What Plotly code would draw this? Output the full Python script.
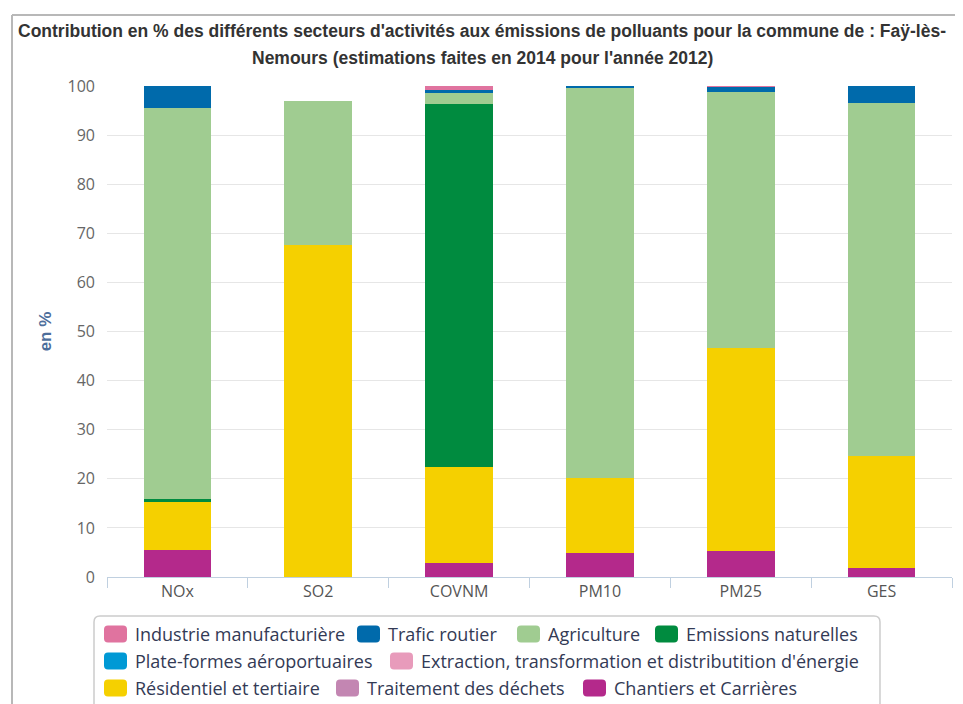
import plotly.graph_objects as go

# polluants (axe des catégories)
polluants = ["NOx", "SO2", "COVNM", "PM10", "PM25", "GES"]

# contributions en % par secteur
industrie = [0, 0, 0.9, 0, 0.2, 0]
trafic = [4.4, 0, 0.4, 0.5, 1.1, 3.4]
agriculture = [79.8, 29.3, 2.4, 79.3, 52.1, 71.9]
emissions_nat = [0.4, 0, 73.8, 0, 0, 0]
aeroports = [0, 0, 0, 0, 0, 0]
extraction = [0, 0, 0, 0, 0, 0]
residentiel = [9.9, 67.6, 19.7, 15.4, 41.3, 22.8]
dechets = [0, 0, 0, 0, 0, 0]
chantiers = [5.5, 0, 2.8, 4.8, 5.3, 1.9]

secteurs = [
    ("Industrie manufacturière", industrie, "#e0739f"),
    ("Trafic routier", trafic, "#006aab"),
    ("Agriculture", agriculture, "#a0cc91"),
    ("Emissions naturelles", emissions_nat, "#008b3f"),
    ("Plate-formes aéroportuaires", aeroports, "#0099d5"),
    ("Extraction, transformation et distributition d'énergie", extraction, "#e89bbb"),
    ("Résidentiel et tertiaire", residentiel, "#f5d000"),
    ("Traitement des déchets", dechets, "#c386b2"),
    ("Chantiers et Carrières", chantiers, "#b4298b"),
]

titre_l1 = "Contribution en % des différents secteurs d'activités aux émissions de polluants pour la commune de : Faÿ-lès-"
titre_l2 = "Nemours (estimations faites en 2014 pour l'année 2012)"

# la page html ajoute 8px de marge : positions écran -> figure
OFF = 8
W, H = 963 - OFF, 704 - OFF
L, R, T, B = 107, 952, 86, 577   # zone de tracé, en pixels écran


def px(x):
    return (x - L) / (R - L)


def py(y):
    return (B - y) / (B - T)


def rrect(x0, y0, x1, y1, r):
    pts = [
        ("M", x0 + r, y0), ("L", x1 - r, y0), ("Q", x1, y0, x1, y0 + r),
        ("L", x1, y1 - r), ("Q", x1, y1, x1 - r, y1), ("L", x0 + r, y1),
        ("Q", x0, y1, x0, y1 - r), ("L", x0, y0 + r), ("Q", x0, y0, x0 + r, y0),
    ]
    s = ""
    for p in pts:
        c = p[0]
        v = p[1:]
        coords = []
        for i in range(0, len(v), 2):
            coords.append(f"{px(v[i]):.5f},{py(v[i + 1]):.5f}")
        s += c + " ".join(coords) + " "
    return s + "Z"


fig = go.Figure()
# empilement : la première série du haut de la légende est en haut de la pile
for nom, vals, col in reversed(secteurs):
    fig.add_trace(go.Bar(x=polluants, y=vals, name=nom, marker_color=col,
                         marker_line_width=0, showlegend=False))

shapes = []
annots = []

# cadre du graphique
shapes.append(dict(type="line", xref="paper", yref="paper", x0=px(12), x1=px(12),
                   y0=py(15), y1=py(710), line=dict(color="#b8b8b8", width=2)))
shapes.append(dict(type="line", xref="paper", yref="paper", x0=px(12), x1=px(970),
                   y0=py(15), y1=py(15), line=dict(color="#b8b8b8", width=2)))

# titre
titre_font = dict(family="Liberation Sans", size=17.5, color="#333333", weight="bold")
annots.append(dict(text=titre_l1, xref="paper", yref="paper", x=px(482), y=py(31),
                    showarrow=False, xanchor="center", yanchor="middle", font=titre_font))
annots.append(dict(text=titre_l2, xref="paper", yref="paper", x=px(482), y=py(58),
                    showarrow=False, xanchor="center", yanchor="middle", font=titre_font))

# légende
shapes.append(dict(type="path", xref="paper", yref="paper", path=rrect(94, 616, 880, 730, 6),
                   line=dict(color="#cccccc", width=1.5), fillcolor="rgba(0,0,0,0)"))
positions = [
    (104, 634), (357, 634), (517, 634), (655, 634),
    (104, 661), (390, 661),
    (104, 688), (336, 688), (583, 688),
]
for (nom, vals, col), (sx, sy) in zip(secteurs, positions):
    shapes.append(dict(type="path", xref="paper", yref="paper",
                       path=rrect(sx, sy - 8.5, sx + 23, sy + 8.5, 4),
                       line=dict(width=0), fillcolor=col))
    annots.append(dict(text=nom, xref="paper", yref="paper", x=px(sx + 29), y=py(sy),
                        showarrow=False, xanchor="left", yanchor="middle",
                        font=dict(family="Open Sans", size=18, color="#333a55")))

fig.update_layout(
    width=W, height=H,
    margin=dict(l=L - OFF, r=W - (R - OFF), t=T - OFF, b=H - (B - OFF)),
    paper_bgcolor="white", plot_bgcolor="white",
    barmode="stack", bargap=0.52,
    shapes=shapes, annotations=annots,
    font=dict(family="Open Sans", size=16, color="#666666"),
)
fig.update_xaxes(
    showline=True, linecolor="#c0d0e0", linewidth=1,
    ticks="outside", tickson="boundaries", ticklen=10, tickcolor="#c0d0e0",
    tickfont=dict(family="Open Sans", size=16, color="#555555"),
    showgrid=False,
)
fig.update_yaxes(
    range=[0, 100], dtick=10, showgrid=True, gridcolor="#e6e6e6", gridwidth=1,
    zeroline=False, ticks="", ticklabelstandoff=11,
    tickfont=dict(family="Open Sans", size=16, color="#666666"),
    title=dict(text="<b>en %</b>", standoff=11,
               font=dict(family="Liberation Sans", size=17, color="#4d6e9b")),
)

fig.write_html("out.html")
